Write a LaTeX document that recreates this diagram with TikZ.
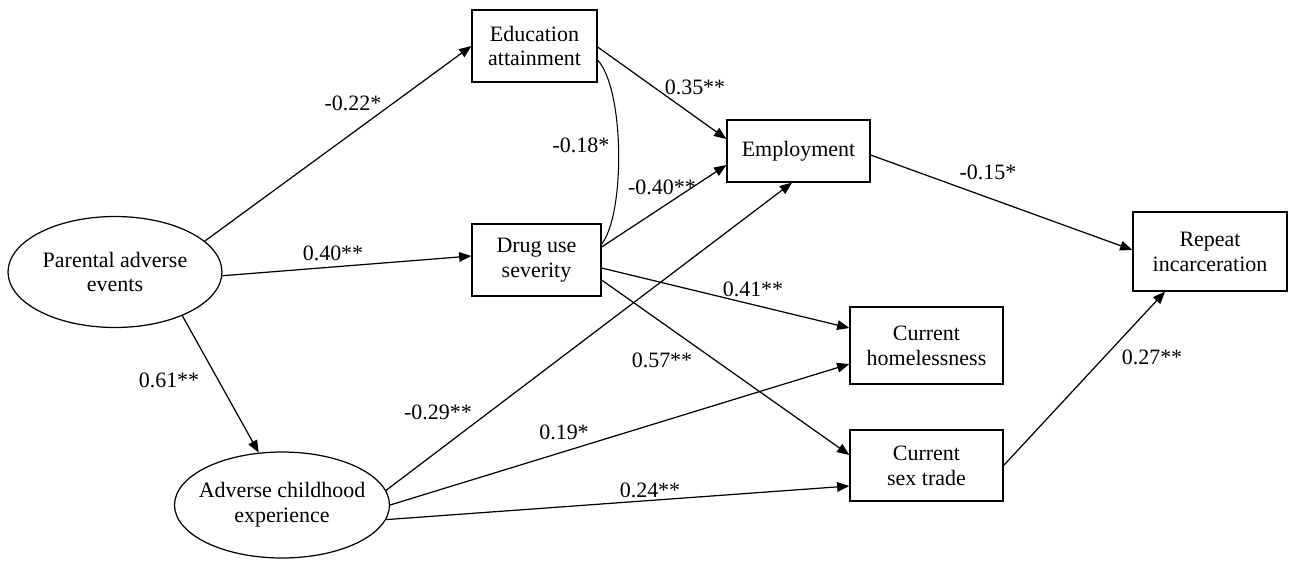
\documentclass[tikz,border=0pt]{standalone}
\usepackage{fontspec}
\setmainfont{Liberation Serif}
\usetikzlibrary{arrows.meta,shapes.geometric,calc}
\begin{document}
\begin{tikzpicture}[x=0.02cm,y=-0.02cm,
  every node/.style={font=\fontsize{12.5}{14.2}\selectfont, text=black},
  box/.style={draw, line width=0.7pt, rectangle, align=center, inner sep=0pt},
  ell/.style={draw, line width=0.7pt, ellipse, align=center, inner xsep=-0.6cm, inner ysep=0pt},
  arr/.style={line width=0.7pt, -{Triangle[length=7pt,width=5.5pt]}},
  lab/.style={inner sep=0pt}]
\useasboundingbox (0,0) rectangle (1290,561);
% nodes
\node[box, minimum width=2.5cm, minimum height=1.44cm] (edu) at (534.5,46) {Education\\attainment};
\node[box, minimum width=2.86cm, minimum height=1.24cm] (emp) at (798.5,151) {Employment};
\node[box, minimum width=2.58cm, minimum height=1.44cm] (drug) at (536.5,260) {Drug use\\severity};
\node[box, minimum width=3.08cm, minimum height=1.58cm] (rep) at (1210,251.5) {Repeat\\incarceration};
\node[box, minimum width=3.06cm, minimum height=1.54cm] (home) at (926.5,345.5) {Current\\homelessness};
\node[box, minimum width=3.06cm, minimum height=1.42cm] (sex) at (926.5,465.5) {Current\\sex trade};
\node[ell, minimum width=4.28cm, minimum height=2.22cm] (pae) at (115,272) {Parental adverse\\events};
\node[ell, minimum width=4.30cm, minimum height=2.12cm] (ace) at (282,505) {Adverse childhood\\experience};
% connectors
\draw[arr] (pae.19) -- (edu.west);
\draw[arr] (pae.-2) -- ([yshift=0.08cm]drug.west);
\draw[arr] (pae.-33.5) -- (ace.114);
\draw[arr] ([yshift=-0.02cm]edu.east) -- ([yshift=0.24cm]emp.west);
\draw[arr] ([yshift=0.26cm]drug.east) -- ([yshift=-0.28cm]emp.west);
\draw[arr] (ace.8) -- ([xshift=-0.13cm]emp.south);
\draw[arr] ([yshift=-0.08cm]emp.east) -- ([yshift=0.03cm]rep.west);
\draw[arr] ([yshift=-0.16cm]drug.east) -- ([yshift=0.35cm]home.west);
\draw[arr] ([yshift=-0.40cm]drug.east) -- ([yshift=0.21cm]sex.west);
\draw[arr] (ace.0) -- ([yshift=-0.37cm]home.west);
\draw[arr] (ace.-8.6) -- ([yshift=-0.41cm]sex.west);
\draw[arr] (sex.east) -- ([xshift=-0.9cm]rep.south);
\draw[line width=0.6pt] ([yshift=-0.28cm]edu.east) .. controls (625,90) and (625,215) .. ([yshift=0.32cm]drug.east);
% labels
\node[lab] (l1) at (353,103) {-0.22*};
\node[lab] (l2) at (333,253) {0.40**};
\node[lab] (l3) at (169,380) {0.61**};
\node[lab] (l4) at (581,145) {-0.18*};
\node[lab] (l5) at (695,87) {0.35**};
\node[lab] (l6) at (662,187) {-0.40**};
\node[lab] (l7) at (988,172) {-0.15*};
\node[lab] (l8) at (753,289) {0.41**};
\node[lab] (l9) at (662,360) {0.57**};
\node[lab] (l10) at (438,412) {-0.29**};
\node[lab] (l11) at (564,432) {0.19*};
\node[lab] (l12) at (650,490) {0.24**};
\node[lab] (l13) at (1152,357) {0.27**};
\end{tikzpicture}
\end{document}
